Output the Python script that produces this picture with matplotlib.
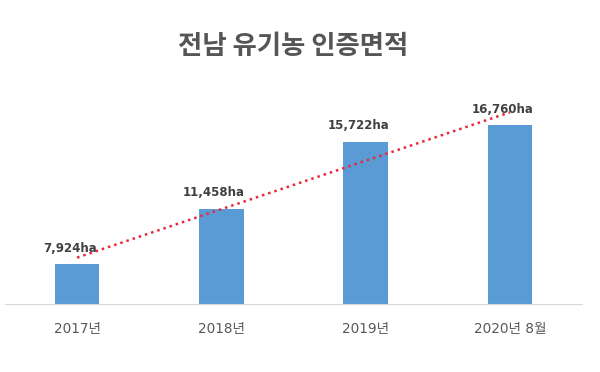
import numpy as np
import matplotlib
matplotlib.use('Agg')
import matplotlib.pyplot as plt

plt.rcParams['font.family'] = ['DejaVu Sans', 'Noto Sans CJK KR']

categories = ['2017년', '2018년', '2019년', '2020년 8월']
areas = [7924, 11458, 15722, 16760]
value_labels = ['7,924ha', '11,458ha', '15,722ha', '16,760ha']

fig = plt.figure(figsize=(6, 3.72), dpi=100)
ax = fig.add_axes([5 / 600, 1 - 304 / 372, 577 / 600, 214 / 372])

x = np.arange(len(categories))
ax.bar(x, areas, width=0.31, color='#5B9BD5', zorder=2)

# linear trendline like the excel one
coef = np.polyfit(x, areas, 1)
ax.plot(x[[0, -1]], np.polyval(coef, x[[0, -1]]), color='#E8283C', ls=(0, (1, 1.6)),
        lw=1.8, zorder=3)

for xi, v, lab in zip(x, areas, value_labels):
    ax.annotate(lab, (xi - 0.05, v), xytext=(0, 7), textcoords='offset points',
                ha='center', va='bottom', fontsize=8.5, fontweight='bold', color='#404040')

ax.set_xlim(-0.5, 3.5)
ax.set_ylim(5400, 19000)
ax.set_xticks(x)
ax.set_xticklabels(categories, fontsize=9.8, color='#595959')
ax.tick_params(axis='x', length=0, pad=13)
ax.set_yticks([])
for s in ['top', 'right', 'left']:
    ax.spines[s].set_visible(False)
ax.spines['bottom'].set_color('#D9D9D9')

fig.text(293 / 600, 1 - 46 / 372, '전남 유기농 인증면적', ha='center', va='center',
         fontsize=19, fontweight='bold', color='#555555', family='Noto Sans CJK KR')

fig.savefig('out.png', dpi=100, facecolor='white')
